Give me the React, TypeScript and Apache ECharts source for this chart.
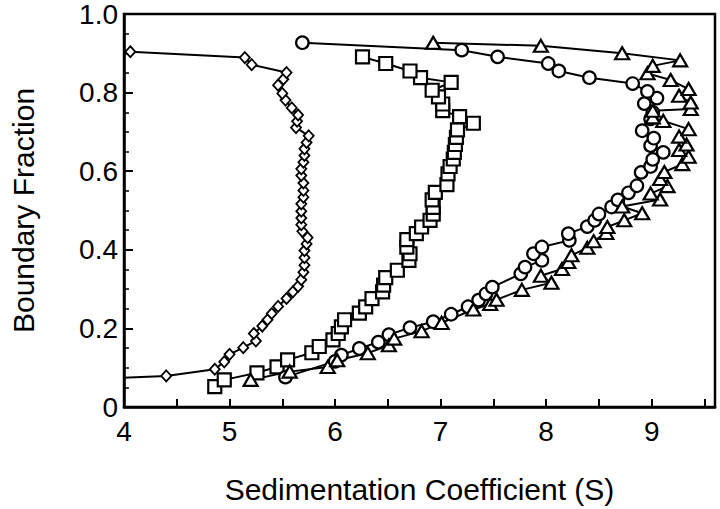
import React, { useEffect, useRef } from "react";
import * as echarts from "echarts";

// Diamond series (sedimentation coefficient S, boundary fraction)
const diamondS = [3.96, 4.40, 4.86, 4.95, 5.00, 5.13, 5.25, 5.23, 5.31, 5.36, 5.40, 5.46, 5.54, 5.60, 5.65, 5.68, 5.70, 5.71, 5.71, 5.71, 5.73, 5.74, 5.69, 5.68, 5.68, 5.68, 5.68, 5.70, 5.70, 5.70, 5.68, 5.68, 5.70, 5.71, 5.71, 5.73, 5.75, 5.63, 5.64, 5.65, 5.59, 5.53, 5.50, 5.46, 5.51, 5.54, 5.21, 5.145, 4.06];
const diamondF = [0.074, 0.079, 0.096, 0.115, 0.134, 0.151, 0.168, 0.187, 0.206, 0.222, 0.238, 0.256, 0.276, 0.293, 0.307, 0.324, 0.343, 0.361, 0.380, 0.398, 0.415, 0.431, 0.447, 0.464, 0.481, 0.498, 0.517, 0.534, 0.551, 0.570, 0.589, 0.606, 0.623, 0.640, 0.657, 0.673, 0.690, 0.711, 0.727, 0.743, 0.761, 0.781, 0.798, 0.819, 0.834, 0.851, 0.871, 0.889, 0.904];

// Square series
const squareS = [4.86, 4.95, 5.26, 5.45, 5.55, 5.78, 5.85, 5.98, 6.03, 6.06, 6.09, 6.23, 6.29, 6.35, 6.45, 6.46, 6.48, 6.59, 6.70, 6.71, 6.68, 6.68, 6.77, 6.82, 6.90, 6.93, 6.93, 6.92, 6.95, 7.06, 7.07, 7.09, 7.12, 7.13, 7.14, 7.15, 7.16, 7.31, 7.18, 7.02, 7.02, 6.98, 6.92, 7.10, 6.81, 6.71, 6.48, 6.26];
const squareF = [0.052, 0.069, 0.087, 0.102, 0.120, 0.138, 0.154, 0.171, 0.187, 0.204, 0.222, 0.239, 0.255, 0.276, 0.293, 0.310, 0.329, 0.348, 0.373, 0.390, 0.407, 0.426, 0.441, 0.458, 0.475, 0.491, 0.508, 0.527, 0.546, 0.566, 0.593, 0.612, 0.631, 0.648, 0.668, 0.686, 0.705, 0.722, 0.739, 0.754, 0.771, 0.789, 0.806, 0.826, 0.838, 0.855, 0.874, 0.891];

// Circle series
const circleS = [5.53, 6.00, 6.06, 6.23, 6.41, 6.51, 6.71, 6.93, 7.10, 7.26, 7.36, 7.43, 7.49, 7.76, 7.80, 7.96, 7.88, 7.96, 8.22, 8.21, 8.39, 8.46, 8.50, 8.62, 8.68, 8.78, 8.86, 8.90, 8.99, 9.01, 9.11, 8.99, 9.02, 8.91, 8.99, 9.01, 8.93, 9.05, 8.96, 8.82, 8.41, 8.12, 8.02, 7.54, 7.20, 5.69];
const circleF = [0.076, 0.116, 0.132, 0.149, 0.165, 0.184, 0.202, 0.217, 0.236, 0.255, 0.272, 0.288, 0.305, 0.339, 0.356, 0.373, 0.390, 0.407, 0.424, 0.441, 0.459, 0.475, 0.491, 0.509, 0.527, 0.545, 0.563, 0.597, 0.612, 0.630, 0.648, 0.665, 0.684, 0.703, 0.733, 0.750, 0.772, 0.786, 0.803, 0.823, 0.838, 0.855, 0.874, 0.891, 0.908, 0.927];

// Triangle series
const triangleS = [5.20, 5.57, 5.93, 6.02, 6.31, 6.51, 6.56, 6.82, 7.01, 7.31, 7.47, 7.53, 7.77, 8.05, 7.95, 8.15, 8.21, 8.24, 8.39, 8.45, 8.57, 8.58, 8.74, 8.91, 8.72, 9.08, 8.99, 9.15, 9.08, 9.12, 9.29, 9.35, 9.26, 9.33, 9.26, 9.35, 9.11, 9.01, 9.01, 9.37, 9.37, 9.26, 9.35, 9.18, 8.96, 9.01, 9.27, 8.72, 7.95, 6.93];
const triangleF = [0.069, 0.090, 0.102, 0.119, 0.137, 0.157, 0.174, 0.193, 0.214, 0.248, 0.262, 0.273, 0.298, 0.316, 0.334, 0.351, 0.369, 0.386, 0.405, 0.422, 0.443, 0.458, 0.475, 0.493, 0.510, 0.528, 0.543, 0.562, 0.580, 0.598, 0.618, 0.637, 0.654, 0.668, 0.688, 0.707, 0.728, 0.737, 0.754, 0.758, 0.775, 0.792, 0.809, 0.832, 0.849, 0.868, 0.882, 0.900, 0.919, 0.927];

const xTickLabels = ["4", "5", "6", "7", "8", "9"];
const yTickLabels = ["0", "0.2", "0.4", "0.6", "0.8", "1.0"];

const FONT = "Liberation Sans, Arial, Helvetica, sans-serif";

function pairs(xs: number[], ys: number[]) {
  return xs.map((x, i) => [x, ys[i]]);
}

export default function App() {
  const ref = useRef<HTMLDivElement>(null);
  useEffect(() => {
    if (!ref.current) return;
    const chart = echarts.init(ref.current, null, { renderer: "svg" });
    const mkSeries = (name: string, data: number[][], symbol: string, size: any, bw: number) => ({
      name,
      type: "line",
      data,
      symbol,
      symbolSize: size,
      showAllSymbol: true,
      clip: true,
      lineStyle: { color: "#000", width: 2 },
      itemStyle: { color: "#fff", borderColor: "#000", borderWidth: bw },
      emphasis: { disabled: true },
    });
    chart.setOption({
      animation: false,
      backgroundColor: "#fff",
      grid: {
        left: 117,
        right: 5,
        top: 13,
        bottom: 102,
        show: true,
        borderColor: "#000",
        borderWidth: 2.5,
        backgroundColor: "transparent",
      },
      xAxis: {
        type: "value",
        min: 4,
        max: 9.6,
        interval: 0.5,
        name: "Sedimentation Coefficient (S)",
        nameLocation: "middle",
        nameGap: 67,
        nameTextStyle: { fontFamily: FONT, fontSize: 30, color: "#000" },
        axisLine: { show: true, lineStyle: { color: "#000", width: 2.5 } },
        axisTick: { show: true, inside: true, length: 8, lineStyle: { color: "#000", width: 2 } },
        axisLabel: {
          fontFamily: FONT,
          fontSize: 28,
          color: "#000",
          margin: 10,
          showMaxLabel: false,
          formatter: (v: number) => {
            const s = String(Math.round(v));
            return Math.abs(v - Math.round(v)) < 1e-6 && xTickLabels.includes(s) ? s : "";
          },
        },
        splitLine: { show: false },
      },
      yAxis: {
        type: "value",
        min: 0,
        max: 1,
        interval: 0.2,
        name: "Boundary Fraction",
        nameLocation: "middle",
        nameGap: 86,
        nameTextStyle: { fontFamily: FONT, fontSize: 30, color: "#000" },
        axisLine: { show: true, lineStyle: { color: "#000", width: 2.5 } },
        axisTick: { show: true, inside: true, length: 9, lineStyle: { color: "#000", width: 2 } },
        minorTick: { show: true, splitNumber: 4, length: 5, lineStyle: { color: "#000", width: 1.5 } },
        axisLabel: {
          fontFamily: FONT,
          fontSize: 28,
          color: "#000",
          margin: 6,
          formatter: (v: number) => yTickLabels[Math.round(v / 0.2)] ?? "",
        },
        splitLine: { show: false },
        minorSplitLine: { show: false },
      },
      series: [
        mkSeries("diamond", pairs(diamondS, diamondF), "diamond", [10, 11], 1.8),
        mkSeries("square", pairs(squareS, squareF), "rect", 13, 2.2),
        mkSeries("circle", pairs(circleS, circleF), "circle", 12.5, 2.2),
        mkSeries("triangle", pairs(triangleS, triangleF), "triangle", [14, 12], 2.2),
      ],
    });
    return () => chart.dispose();
  }, []);
  return <div ref={ref} style={{ width: 720, height: 509, position: "absolute", left: 0, top: 0 }} />;
}
